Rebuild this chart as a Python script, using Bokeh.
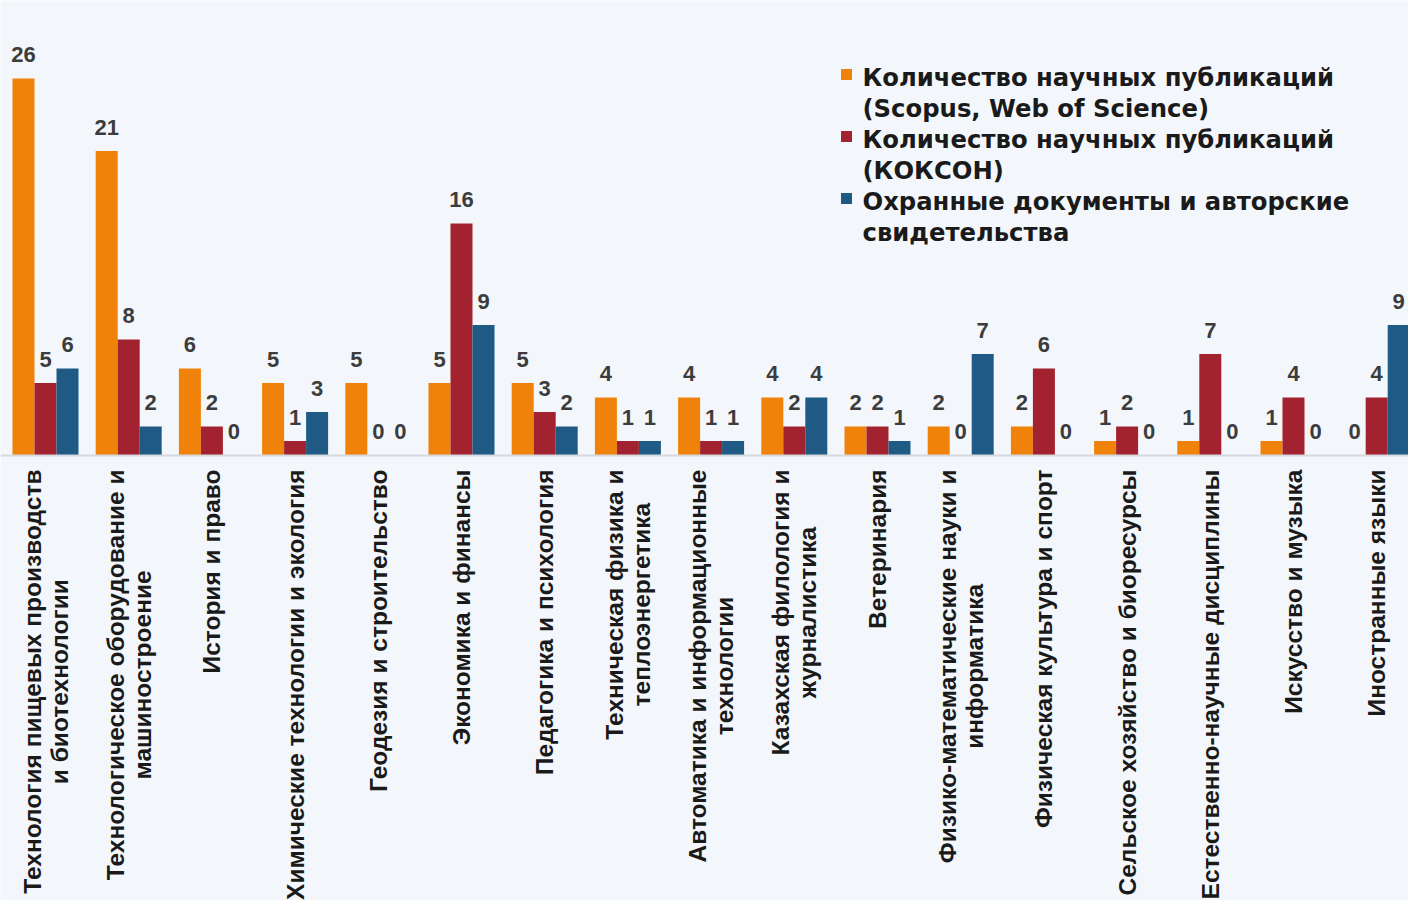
import math
from bokeh.plotting import figure
from bokeh.models import Range1d, Span
from bokeh.core.properties import value
from bokeh.embed import file_html
from bokeh.resources import INLINE

# ---------------- data ----------------
categories = [
    "Технология пищевых производств\nи биотехнологии",
    "Технологическое оборудование и\nмашиностроение",
    "История и право",
    "Химические технологии и экология",
    "Геодезия и строительство",
    "Экономика и финансы",
    "Педагогика и психология",
    "Техническая физика и\nтеплоэнергетика",
    "Автоматика и информационные\nтехнологии",
    "Казахская филология и\nжурналистика",
    "Ветеринария",
    "Физико-математические науки и\nинформатика",
    "Физическая культура и спорт",
    "Сельское хозяйство и биоресурсы",
    "Естественно-научные дисциплины",
    "Искусство и музыка",
    "Иностранные языки",
]
scopus_wos = [26, 21, 6, 5, 5, 5, 5, 4, 4, 4, 2, 2, 2, 1, 1, 1, 0]
koxon = [5, 8, 2, 1, 0, 16, 3, 1, 1, 2, 2, 0, 6, 2, 7, 4, 4]
patents = [6, 2, 0, 3, 0, 9, 2, 1, 1, 4, 1, 7, 0, 0, 0, 0, 9]
series_names = [
    "Количество научных публикаций\n(Scopus, Web of Science)",
    "Количество научных публикаций\n(КОКСОН)",
    "Охранные документы и авторские\nсвидетельства",
]
series_values = [scopus_wos, koxon, patents]
colors = ["#F0820A", "#A3222F", "#1E5A84"]

# ---------------- layout ----------------
W, H = 1408, 900
OFF = 8
PX_CAT = 83.2
PX_UNIT = 14.5
FIRST_CENTER_PX = 53
BASE_PX = 463
XS = -(FIRST_CENTER_PX - OFF) / PX_CAT
XE = XS + W / PX_CAT
YT = (BASE_PX - OFF) / PX_UNIT
YB = YT - H / PX_UNIT
BAR_W = 22 / PX_CAT

def px2x(px):
    return XS + (px - OFF) / PX_CAT

def px2y(py):
    return YT - (py - OFF) / PX_UNIT

BG = "#f3f7fb"
FONT = value("Liberation Sans")
LEG_FONT = value("DejaVu Sans")

p = figure(width=W, height=H, x_range=Range1d(XS, XE), y_range=Range1d(YB, YT),
           output_backend="svg", toolbar_location=None,
           x_axis_location=None, y_axis_location=None, min_border=0)
p.background_fill_color = BG
p.border_fill_color = BG
p.outline_line_color = None
p.xgrid.visible = False
p.ygrid.visible = False

p.add_layout(Span(location=0, dimension="width", line_color="#d6dadf", line_width=2))

idx = list(range(len(categories)))
for k, (vals, col) in enumerate(zip(series_values, colors)):
    xs = [i + (k - 1) * BAR_W for i in idx]
    p.vbar(x=xs, top=vals, bottom=0, width=BAR_W, fill_color=col, line_color=None)
    p.text(x=xs, y=vals, text=[str(v) for v in vals], text_font=FONT,
           text_font_style="bold", text_font_size="22px", text_color="#3c3c3c",
           text_align="center", text_baseline="alphabetic", y_offset=-24)

# category labels (rotated, clipped by frame)
p.text(x=idx, y=[0] * len(idx), text=categories, angle=math.pi / 2,
       text_font=FONT, text_font_style="bold", text_font_size="24.5px",
       text_color="#1a1a1a", text_align="center", text_baseline="middle",
       anchor="center_right", text_line_height=1.0, y_offset=14)

# legend
LEG_SQ_X = 854
LEG_TXT_X = 870
LEG_BASE0 = 85
LEG_STEP = 31
line_no = 0
for name, col in zip(series_names, colors):
    lines = name.split("\n")
    p.scatter(x=[px2x(LEG_SQ_X)], y=[px2y(LEG_BASE0 + 7 + line_no * LEG_STEP - 10)],
              marker="square", size=11, fill_color=col, line_color=None)
    for ln in lines:
        p.text(x=[px2x(LEG_TXT_X)], y=[px2y(LEG_BASE0 + line_no * LEG_STEP)], text=[ln],
               text_font=LEG_FONT, text_font_style="bold", text_font_size="24.3px",
               text_color="#1a1a1a", text_align="left", text_baseline="alphabetic")
        line_no += 1

open("out.html", "w").write(file_html(p, INLINE))
